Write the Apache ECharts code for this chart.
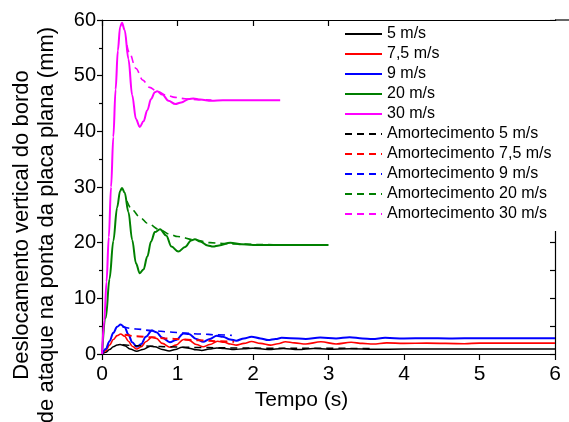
<!DOCTYPE html>
<html>
<head>
<meta charset="utf-8">
<script src="https://cdn.jsdelivr.net/npm/echarts@6/dist/echarts.min.js"></script>
<style>
  html, body { margin: 0; padding: 0; background: #fff; }
  #chart { width: 569px; height: 422px; }
</style>
</head>
<body>
<div id="chart"></div>
<script>
// Vertical displacement of the leading edge (mm) vs time (s)
const xTicks = [0, 1, 2, 3, 4, 5, 6];
const legendNames = ['5 m/s', '7,5 m/s', '9 m/s', '20 m/s', '30 m/s',
  'Amortecimento 5 m/s', 'Amortecimento 7,5 m/s', 'Amortecimento 9 m/s',
  'Amortecimento 20 m/s', 'Amortecimento 30 m/s'];

// 5 m/s response
const t5 = [0, 0.05, 0.1, 0.15, 0.2, 0.24, 0.3, 0.37, 0.46, 0.54, 0.64, 0.7, 0.8, 0.89, 0.97, 1.06, 1.15, 1.25, 1.32, 1.42, 1.52, 1.62, 1.75, 1.88, 2.0, 2.2, 2.4, 2.6, 2.8, 3.0, 3.3, 3.6, 4.0, 5.0, 6.0];
const v5 = [0, 0.3, 0.8, 1.3, 1.6, 1.7, 1.5, 0.9, 0.5, 0.8, 1.4, 1.3, 0.8, 0.55, 0.8, 1.2, 1.05, 0.75, 0.65, 0.9, 1.1, 1.0, 0.8, 0.95, 1.05, 0.8, 1.0, 0.8, 1.0, 0.85, 0.95, 0.85, 0.9, 0.9, 0.9];
// 7,5 m/s response
const t75 = [0, 0.05, 0.1, 0.15, 0.2, 0.247, 0.3, 0.35, 0.4, 0.46, 0.52, 0.58, 0.66, 0.72, 0.8, 0.9, 0.98, 1.08, 1.15, 1.25, 1.34, 1.43, 1.53, 1.62, 1.7, 1.78, 1.88, 1.98, 2.1, 2.23, 2.33, 2.43, 2.55, 2.7, 2.9, 3.1, 3.3, 3.45, 3.59, 3.77, 4.0, 4.3, 4.8, 5.0, 5.5, 6.0];
const v75 = [0, 0.6, 1.6, 2.6, 3.3, 3.6, 3.2, 2.3, 1.4, 0.9, 1.3, 2.2, 3.0, 2.8, 1.9, 1.2, 1.6, 2.6, 2.5, 1.7, 1.3, 1.7, 2.3, 2.1, 1.8, 1.6, 1.9, 2.25, 1.9, 1.6, 1.85, 2.2, 2.0, 1.8, 2.2, 1.8, 2.1, 1.9, 1.8, 2.0, 1.9, 1.95, 1.85, 1.95, 1.95, 1.95];
// 9 m/s response
const t9 = [0, 0.05, 0.1, 0.15, 0.2, 0.247, 0.3, 0.35, 0.4, 0.46, 0.52, 0.58, 0.66, 0.72, 0.8, 0.9, 0.98, 1.08, 1.15, 1.25, 1.34, 1.43, 1.52, 1.6, 1.7, 1.78, 1.88, 1.98, 2.1, 2.2, 2.3, 2.38, 2.5, 2.7, 2.89, 3.1, 3.28, 3.45, 3.58, 3.75, 4.0, 4.3, 4.6, 5.0, 5.5, 6.0];
const v9 = [0, 0.9, 2.3, 3.8, 4.9, 5.3, 4.8, 3.5, 2.1, 1.3, 1.8, 3.1, 4.2, 3.9, 2.9, 2.1, 2.5, 3.7, 3.6, 2.7, 2.2, 2.7, 3.3, 3.1, 2.6, 2.4, 2.8, 3.1, 2.8, 2.5, 2.7, 2.9, 2.85, 2.7, 2.95, 2.8, 3.0, 2.8, 2.7, 2.9, 2.8, 2.85, 2.8, 2.85, 2.85, 2.85];
// 20 m/s response
const t20 = [0, 0.05, 0.1, 0.15, 0.2, 0.24, 0.265, 0.3, 0.35, 0.4, 0.45, 0.5, 0.55, 0.6, 0.65, 0.7, 0.77, 0.85, 0.92, 1.01, 1.1, 1.18, 1.23, 1.3, 1.4, 1.47, 1.55, 1.7, 1.85, 2.0, 2.5, 3.0];
const v20 = [0, 6.5, 13.5, 20.3, 26.3, 29.3, 29.8, 29, 25.5, 20.5, 16.3, 14.5, 15.2, 17.5, 20.2, 21.9, 22.4, 21.3, 19.3, 18.4, 19.2, 20.4, 20.6, 20.2, 19.5, 19.3, 19.5, 20.0, 19.7, 19.6, 19.6, 19.6];
// 30 m/s response
const t30 = [0, 0.03, 0.06, 0.09, 0.12, 0.15, 0.18, 0.21, 0.24, 0.265, 0.3, 0.35, 0.4, 0.45, 0.5, 0.55, 0.6, 0.65, 0.7, 0.73, 0.8, 0.88, 0.97, 1.05, 1.15, 1.21, 1.3, 1.45, 1.6, 2.0, 2.36];
const v30 = [0, 6, 13, 21, 30, 39, 47.5, 54.5, 58.8, 59.5, 58.2, 53, 46.5, 42.2, 40.8, 41.8, 43.8, 45.8, 47.0, 47.2, 46.6, 45.5, 44.9, 45.2, 45.8, 45.9, 45.7, 45.5, 45.6, 45.6, 45.6];

// Damping envelopes
const td5 = [0.27, 0.45, 0.64, 0.9, 1.06, 1.3, 1.52, 1.8, 2.2, 2.8, 3.6];
const vd5 = [1.65, 1.5, 1.4, 1.3, 1.22, 1.18, 1.12, 1.08, 1.05, 1.02, 1.0];
const td75 = [0.3, 0.45, 0.66, 0.9, 1.08, 1.3, 1.53, 1.75];
const vd75 = [3.45, 3.2, 3.0, 2.75, 2.6, 2.45, 2.3, 2.2];
const td9 = [0.27, 0.45, 0.66, 0.9, 1.08, 1.3, 1.52, 1.72];
const vd9 = [4.9, 4.5, 4.2, 3.95, 3.75, 3.6, 3.45, 3.35];
const td20 = [0.33, 0.4, 0.5, 0.6, 0.77, 0.9, 1.0, 1.23, 1.43, 1.6, 1.8, 2.1, 2.53];
const vd20 = [27.5, 25.9, 24.6, 23.5, 22.3, 21.5, 21.1, 20.5, 20.0, 19.85, 19.75, 19.65, 19.6];
const td30 = [0.33, 0.36, 0.45, 0.54, 0.63, 0.73, 0.85, 0.97, 1.1, 1.25, 1.45];
const vd30 = [55.5, 54.2, 51.3, 49.2, 47.9, 47.2, 46.5, 46.1, 45.85, 45.7, 45.6];

const FONT = 'Liberation Sans, Arial, sans-serif';
const pair = (t, v) => t.map((x, i) => [x, v[i]]);

function lineSeries(name, t, v, color, width, dashed) {
  return {
    name: name,
    type: 'line',
    data: pair(t, v),
    showSymbol: false,
    symbol: 'none',
    smooth: 0.35,
    smoothMonotone: 'x',
    lineStyle: { color: color, width: width, type: dashed ? [7, 5] : 'solid' },
    itemStyle: { color: color },
    emphasis: { disabled: true },
    animation: false
  };
}

const chart = echarts.init(document.getElementById('chart'), null, { renderer: 'canvas' });

const axisLineStyle = { color: '#000', width: 1.2 };

chart.setOption({
  animation: false,
  backgroundColor: '#fff',
  grid: { left: 102, right: 14, top: 20, bottom: 68, containLabel: false, outerBoundsMode: 'none' },
  legend: {
    data: legendNames,
    orient: 'vertical',
    left: 330,
    top: 21,
    padding: [5, 30, 9, 14],
    itemWidth: 37,
    itemHeight: 14,
    itemGap: 4,
    backgroundColor: '#fff',
    z: 10,
    // hide the marker dot, keep only the line sample
    itemStyle: { opacity: 0, borderWidth: 0 },
    textStyle: { fontFamily: FONT, fontSize: 16, color: '#000', lineHeight: 16 },
    selectedMode: false
  },
  xAxis: [
    {
      type: 'value', min: 0, max: 6, interval: 1, position: 'bottom',
      name: 'Tempo (s)', nameLocation: 'middle', nameGap: 36,
      nameTextStyle: { fontFamily: FONT, fontSize: 21, color: '#000', padding: [0, 54, 0, 0] },
      axisLine: { show: true, onZero: false, lineStyle: axisLineStyle },
      axisTick: { show: true, inside: false, length: 6, lineStyle: axisLineStyle },
      axisLabel: { fontFamily: FONT, fontSize: 21, color: '#000', margin: 10,
        formatter: v => (xTicks.indexOf(v) >= 0 ? String(v) : '') },
      splitLine: { show: false }
    },
    {
      type: 'value', min: 0, max: 6, interval: 1, position: 'top',
      axisLine: { show: true, onZero: false, lineStyle: axisLineStyle },
      axisTick: { show: true, inside: true, length: 6, lineStyle: axisLineStyle },
      axisLabel: { show: false },
      splitLine: { show: false }
    }
  ],
  yAxis: [
    {
      type: 'value', min: 0, max: 60, interval: 10, position: 'left',
      name: 'Deslocamento vertical do bordo\nde ataque na ponta da placa plana (mm)',
      nameLocation: 'middle', nameGap: 43, nameRotate: 90,
      nameTextStyle: { fontFamily: FONT, fontSize: 22, color: '#000', lineHeight: 25, padding: [0, 76, 0, 0] },
      axisLine: { show: true, onZero: false, lineStyle: axisLineStyle },
      axisTick: { show: true, inside: false, length: 5, lineStyle: axisLineStyle },
      minorTick: { show: true, splitNumber: 2, length: 3, lineStyle: { color: '#000', width: 1.2 } },
      axisLabel: { fontFamily: FONT, fontSize: 20, color: '#000', margin: 6 },
      splitLine: { show: false }
    },
    {
      type: 'value', min: 0, max: 60, interval: 5, position: 'right',
      axisLine: { show: true, onZero: false, lineStyle: axisLineStyle },
      axisTick: { show: true, inside: true, length: 5, lineStyle: axisLineStyle },
      axisLabel: { show: false },
      splitLine: { show: false }
    }
  ],
  graphic: [
    // top rule continues past the frame to the right edge
    { type: 'line', z: 20, shape: { x1: 555, y1: 20, x2: 569, y2: 20 },
      style: { stroke: '#000', lineWidth: 1.2 } }
  ],
  series: [
    lineSeries('5 m/s', t5, v5, '#000000', 1.5, false),
    lineSeries('7,5 m/s', t75, v75, '#ff0000', 1.6, false),
    lineSeries('9 m/s', t9, v9, '#0000ff', 2, false),
    lineSeries('20 m/s', t20, v20, '#008000', 2, false),
    lineSeries('30 m/s', t30, v30, '#ff00ff', 2, false),
    lineSeries('Amortecimento 5 m/s', td5, vd5, '#000000', 1.5, true),
    lineSeries('Amortecimento 7,5 m/s', td75, vd75, '#ff0000', 2, true),
    lineSeries('Amortecimento 9 m/s', td9, vd9, '#0000ff', 1.6, true),
    lineSeries('Amortecimento 20 m/s', td20, vd20, '#008000', 1.6, true),
    lineSeries('Amortecimento 30 m/s', td30, vd30, '#ff00ff', 1.6, true)
  ]
});
</script>
</body>
</html>
